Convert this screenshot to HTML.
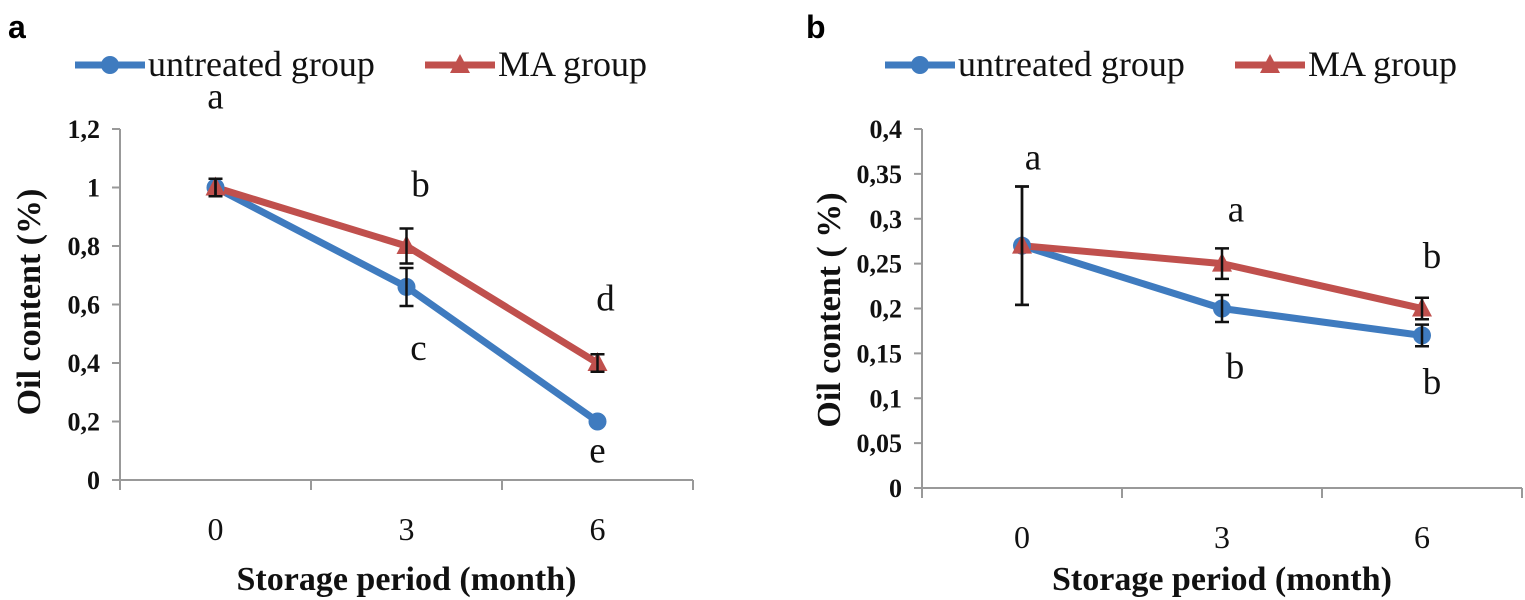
<!DOCTYPE html>
<html><head><meta charset="utf-8"><style>
html,body{margin:0;padding:0;background:#fff;}
svg{display:block;font-family:"Liberation Serif",serif;}
</style></head><body>
<svg id="chart" width="1525" height="600" viewBox="0 0 1525 600"></svg>
<script>
const categories = ["0","3","6"];
const untreatedA = [1.0, 0.66, 0.2];
const maA = [1.0, 0.8, 0.4];
const untreatedErrA = [0.03, 0.065, 0.0];
const maErrA = [0.03, 0.06, 0.03];
const ticksA = [0,0.2,0.4,0.6,0.8,1,1.2];
const tickLabelsA = ["0","0,2","0,4","0,6","0,8","1","1,2"];
const untreatedB = [0.27, 0.2, 0.17];
const maB = [0.27, 0.25, 0.2];
const untreatedErrB = [0.066, 0.015, 0.012];
const maErrB = [0.066, 0.017, 0.012];
const ticksB = [0,0.05,0.1,0.15,0.2,0.25,0.3,0.35,0.4];
const tickLabelsB = ["0","0,05","0,1","0,15","0,2","0,25","0,3","0,35","0,4"];
const lettersB = [["a",0,0.355],["a",1,0.297],["b",2,0.245],["b",1,0.122],["b",2,0.105]];

const NS="http://www.w3.org/2000/svg";
const svg=document.getElementById('chart');
function el(tag,attrs,parent,text){const e=document.createElementNS(NS,tag);for(const k in attrs)e.setAttribute(k,attrs[k]);if(text!==undefined)e.textContent=text;(parent||svg).appendChild(e);return e;}

function panel(p){
  const g=el('g',{});
  
  
  const x=i=>p.x0+(i+0.5)*(p.x1-p.x0)/categories.length;
  const y=v=>p.y0-(v/p.ymax)*(p.y0-p.ytop);
  const ya=el('line',{x1:p.x0,y1:p.ytop,x2:p.x0,y2:p.y0,stroke:'#999','stroke-width':2},g);
  
  const xa=el('line',{x1:p.x0-8,y1:p.y0,x2:p.x1,y2:p.y0,stroke:'#999','stroke-width':2},g);
  
  p.ticks.forEach((t,i)=>{
    el('line',{x1:p.x0-8,y1:y(t),x2:p.x0,y2:y(t),stroke:'#999','stroke-width':2},g);
    const tl=el('text',{x:p.x0-20,y:y(t)+9,'text-anchor':'end','font-size':26,'font-weight':'bold',fill:'#111'},g,p.tickLabels[i]);
    
  });
  for(let i=0;i<=categories.length;i++){
    const tx=p.x0+i*(p.x1-p.x0)/categories.length;
    el('line',{x1:tx,y1:p.y0,x2:tx,y2:p.y0+10,stroke:'#999','stroke-width':2},g);
  }
  categories.forEach((c,i)=>{
    const t=el('text',{x:x(i),y:p.y0+60,'text-anchor':'middle','font-size':32,fill:'#111'},g,c);
    
  });
  const xt=el('text',{x:(p.x0+p.x1)/2,y:590,'text-anchor':'middle','font-size':34,'font-weight':'bold',fill:'#111'},g,'Storage period (month)');
  
  const yt=el('text',{x:0,y:0,transform:`translate(${p.ytx},${p.ytc}) rotate(-90)`,'text-anchor':'middle','font-size':34,'font-weight':'bold',fill:'#111'},g,p.ytitle);
  
  const series=[[p.u,'#3f7bbf','circle','untreated',p.ue],[p.m,'#c0504d','tri','ma',p.me]];
  series.forEach(([vals,col,mk,nm])=>{
    const pl=el('polyline',{points:vals.map((v,i)=>x(i)+','+y(v)).join(' '),fill:'none',stroke:col,'stroke-width':7,'stroke-linejoin':'round'},g);
    
  });
  series.forEach(([vals,col,mk,nm,err])=>{
    vals.forEach((v,i)=>{
      const cx=x(i),cy=y(v);
      let m;
      if(mk==='circle') m=el('circle',{cx:cx,cy:cy,r:9,fill:col},g);
      else m=el('polygon',{points:`${cx},${cy-11} ${cx+10},${cy+8} ${cx-10},${cy+8}`,fill:col},g);
      
    });
  });
  series.forEach(([vals,col,mk,nm,err])=>{
    vals.forEach((v,i)=>{
      if(!err[i]) return;
      const cx=x(i),a=y(v+err[i]),b=y(v-err[i]);
      const eb=el('path',{d:`M${cx},${a}V${b}M${cx-7},${a}H${cx+7}M${cx-7},${b}H${cx+7}`,stroke:'#111','stroke-width':2.5,fill:'none'},g);
      
    });
  });
  p.letters.forEach(([l,i,v])=>{
    const t=el('text',{x:x(i)+(p.loff[l+i]||0),y:y(v),'text-anchor':'middle','font-size':37,fill:'#111'},g,l);
    
  });
  const lg=el('g',{},g);
  
  [[p.lx,'#3f7bbf','circle','untreated group'],[p.lx+350,'#c0504d','tri','MA group']].forEach(([lx,col,mk,label])=>{
    const e=el('g',{},lg);
    
    el('line',{x1:lx,y1:65,x2:lx+70,y2:65,stroke:col,'stroke-width':7},e);
    if(mk==='circle') el('circle',{cx:lx+35,cy:65,r:9,fill:col},e);
    else el('polygon',{points:`${lx+35},${54} ${lx+45},${73} ${lx+25},${73}`,fill:col},e);
    el('text',{x:lx+73,y:76,'font-size':36,fill:'#111'},e,label);
  });
  const pl=el('text',{x:p.plx,y:38,'font-size':32,'font-weight':'bold','font-family':'Liberation Sans, sans-serif',fill:'#000'},g,p.panel);
  
}
panel({name:'panel-a',panel:'a',plx:8,x0:120,x1:693,y0:480,ytop:129,ymax:1.2,ticks:ticksA,tickLabels:tickLabelsA,
  u:untreatedA,m:maA,ue:untreatedErrA,me:maErrA,ytx:40,ytc:302,ytitle:'Oil content (%)',lx:75,
  letters:[["a",0,1.27],["b",1,0.97],["c",1,0.41],["d",2,0.58],["e",2,0.06]],loff:{b1:14,c1:12,d2:8}});
panel({name:'panel-b',panel:'b',plx:806,x0:922,x1:1522,y0:488,ytop:129,ymax:0.4,ticks:ticksB,tickLabels:tickLabelsB,
  u:untreatedB,m:maB,ue:untreatedErrB,me:maErrB,ytx:840,ytc:310,ytitle:'Oil content ( %)',lx:885,
  letters:lettersB,loff:{a0:11,a1:14,b2:10,b1:13,}});
</script>
</body></html>
